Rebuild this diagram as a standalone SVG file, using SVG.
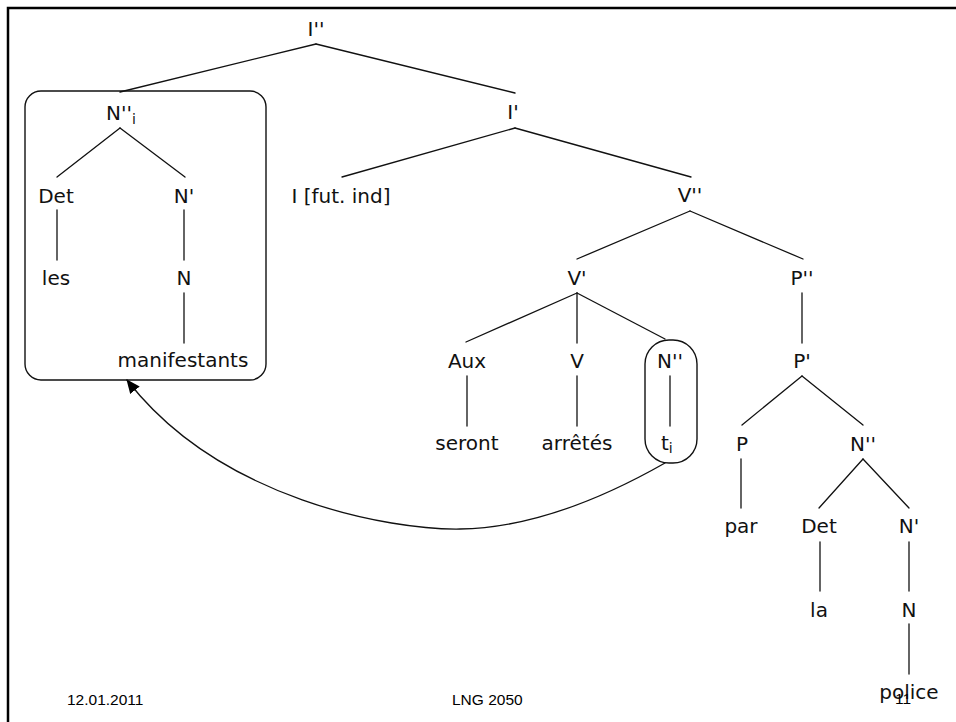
<svg xmlns="http://www.w3.org/2000/svg" width="956" height="722" viewBox="0 0 956 722">
<style>
.n{font-family:"DejaVu Sans","Liberation Sans",sans-serif;font-size:20px;fill:#111;text-anchor:middle}
.s{text-anchor:start}
.sub{font-size:14px}
.f{font-family:"Liberation Sans",Arial,sans-serif;font-size:15.5px;fill:#000}
.e{stroke:#111;stroke-width:1.3;fill:none;stroke-linecap:round}
.box{stroke:#111;stroke-width:1.4;fill:none}
</style>
<defs>
<marker id="ah" markerWidth="14" markerHeight="12" refX="13" refY="6" orient="auto" markerUnits="userSpaceOnUse">
<path d="M0,0 L14,6 L0,12 Z" fill="#000"/>
</marker>
</defs>
<rect width="956" height="722" fill="#fff"/>
<path d="M8,722 V8 H956" stroke="#000" stroke-width="2.5" fill="none"/>

<g id="connectors" class="e">
<line x1="316" y1="44" x2="120" y2="92"/>
<line x1="316" y1="44" x2="515" y2="93"/>
<line x1="120" y1="128" x2="57" y2="177"/>
<line x1="120" y1="128" x2="185" y2="177"/>
<line x1="57" y1="210" x2="57" y2="260"/>
<line x1="184" y1="210" x2="184" y2="260"/>
<line x1="184" y1="293" x2="184" y2="343"/>
<line x1="515" y1="128" x2="342" y2="177"/>
<line x1="515" y1="128" x2="691" y2="177"/>
<line x1="690" y1="211" x2="577" y2="259"/>
<line x1="690" y1="211" x2="803" y2="259"/>
<line x1="802" y1="293" x2="802" y2="343"/>
<line x1="577" y1="293" x2="466" y2="342"/>
<line x1="577" y1="293" x2="577" y2="343"/>
<line x1="577" y1="293" x2="665" y2="339"/>
<line x1="467" y1="376" x2="467" y2="426"/>
<line x1="577" y1="376" x2="577" y2="426"/>
<line x1="670" y1="376" x2="670" y2="426"/>
<line x1="802" y1="376" x2="742" y2="425"/>
<line x1="802" y1="376" x2="863" y2="425"/>
<line x1="741" y1="459" x2="741" y2="508"/>
<line x1="863" y1="459" x2="819" y2="508"/>
<line x1="863" y1="459" x2="909" y2="508"/>
<line x1="820" y1="542" x2="820" y2="591"/>
<line x1="909" y1="542" x2="909" y2="591"/>
<line x1="909" y1="624" x2="909" y2="674"/>
<path d="M665,463 C600,500 530,528 460,529 S220,500 127,380" marker-end="url(#ah)"/>
</g>

<g id="box-subject"><rect class="box" x="25" y="91" width="241" height="289" rx="16" ry="16"/></g>
<g id="box-trace"><rect class="box" x="645" y="340" width="52" height="123" rx="24" ry="24"/></g>

<g id="n-Ipp"><text class="n" x="316" y="36">I''</text></g>
<g id="n-Npp-i"><text class="n s" x="106" y="120">N''<tspan class="sub" dy="4">i</tspan></text></g>
<g id="n-Det1"><text class="n" x="56" y="203">Det</text></g>
<g id="n-Np1"><text class="n" x="184" y="203">N'</text></g>
<g id="n-les"><text class="n" x="56" y="285">les</text></g>
<g id="n-N1"><text class="n" x="184" y="285">N</text></g>
<g id="n-manifestants"><text class="n" x="183" y="367">manifestants</text></g>
<g id="n-Ip"><text class="n" x="513" y="119">I'</text></g>
<g id="n-I"><text class="n" x="341" y="203">I [fut. ind]</text></g>
<g id="n-Vpp"><text class="n" x="690" y="202">V''</text></g>
<g id="n-Vp"><text class="n" x="577" y="285">V'</text></g>
<g id="n-Ppp"><text class="n" x="802" y="285">P''</text></g>
<g id="n-Pp"><text class="n" x="802" y="368">P'</text></g>
<g id="n-Aux"><text class="n" x="467" y="368">Aux</text></g>
<g id="n-V"><text class="n" x="577" y="368">V</text></g>
<g id="n-Npp2"><text class="n" x="670" y="368">N''</text></g>
<g id="n-seront"><text class="n" x="467" y="450">seront</text></g>
<g id="n-arretes"><text class="n" x="577" y="450">arrêtés</text></g>
<g id="n-ti"><text class="n s" x="661" y="450">t<tspan class="sub" dy="3">i</tspan></text></g>
<g id="n-P"><text class="n" x="742" y="451">P</text></g>
<g id="n-Npp3"><text class="n" x="863" y="451">N''</text></g>
<g id="n-par"><text class="n" x="741" y="533">par</text></g>
<g id="n-Det2"><text class="n" x="819" y="533">Det</text></g>
<g id="n-Np2"><text class="n" x="909" y="533">N'</text></g>
<g id="n-la"><text class="n" x="819" y="617">la</text></g>
<g id="n-N2"><text class="n" x="909" y="617">N</text></g>
<g id="n-police"><text class="n" x="909" y="699">police</text></g>

<g id="footer">
<text class="f" x="67" y="705">12.01.2011</text>
<text class="f" x="452" y="705">LNG 2050</text>
<text class="f" x="895" y="704">11</text>
</g>
</svg>
